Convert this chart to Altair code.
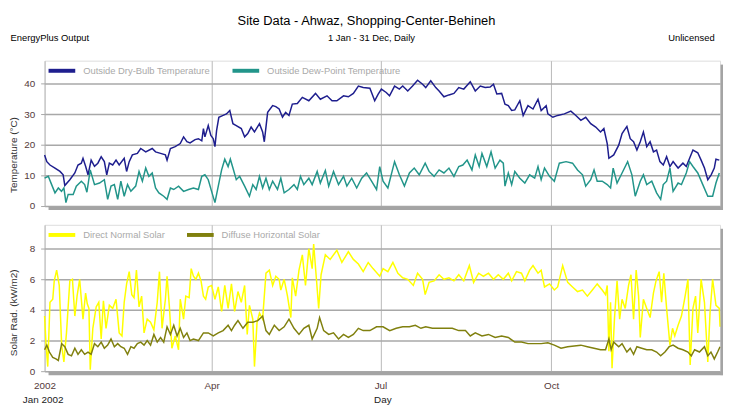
import altair as alt
import pandas as pd

# ---- data (day offset from 1 Jan 2002, value) ----
dry_bulb = [[0, 16.7], [1.2, 14.5], [2.9, 13.4], [5.6, 12.4], [8.3, 11.3], [10, 10.2], [10.9, 6.7], [13.6, 8.6],
            [16.3, 10.8], [18, 13.4], [19.8, 14], [20.7, 15.6], [22.1, 13], [23.4, 10.2], [25.1, 15], [26.9, 13],
            [28.7, 14], [30.5, 16.1], [32.2, 14.5], [33.5, 10.2], [34.9, 14], [36.7, 13.4], [38.5, 15], [40.2, 13.4],
            [42.9, 15.6], [44.2, 11.3], [45.6, 14.5], [47.3, 16.7], [50, 17.2], [51.8, 18.8], [54.5, 17.7], [58, 18.8],
            [59.8, 17.7], [62.5, 17.2], [65.1, 16.7], [66, 15], [67.8, 18.8], [70.4, 19.4], [73.1, 20.4], [74.9, 22.6],
            [76.7, 21], [78.4, 20.6], [81.1, 21.7], [82.9, 22], [84.7, 21.3], [85.6, 25.3], [86.4, 22.6], [88.2, 26.3],
            [89.6, 23.1], [90.9, 22], [91.8, 19.4], [92.7, 24.7], [93.9, 29], [96.2, 29.6], [98, 30.1], [99.8, 31.2],
            [101.5, 26.9], [103.3, 26.3], [106, 25.3], [107.8, 22.6], [109.5, 23.7], [111.3, 25.8], [113.1, 24.2],
            [115.8, 26.9], [117.5, 24.2], [118.4, 21], [120.2, 30.6], [122.9, 32.8], [124.6, 32.5], [126.4, 31.7],
            [128.2, 29], [129.9, 30.6], [131.7, 29.6], [133.5, 33.3], [136.2, 33.5], [138.9, 35.5], [142.4, 34.4],
            [146, 36.8], [148.6, 34.9], [152.2, 36], [154.9, 34.4], [157.5, 34.4], [161.1, 36], [163.7, 35.7],
            [166.4, 36.8], [169.1, 39.2], [171.7, 38.7], [175.3, 38.5], [177.9, 34.4],
            [179.7, 36.5], [181.5, 38.2], [184.1, 37.1], [185.9, 36], [188.6, 39.2], [191.2, 38.2], [193, 39.2],
            [195.7, 37.6], [198.3, 39.2], [201, 41.1], [203.7, 39.8], [205.4, 38.7], [208.1, 40.9], [210.8, 38.7],
            [212.6, 37.6], [215.2, 35.7], [217.9, 36.3], [220.6, 36.8], [223.2, 38.7], [225.9, 38.2], [229.4, 40.6],
            [232.1, 37.6], [234.8, 39.2], [237.4, 38.7], [240.1, 38.9], [241.9, 39.8], [243.7, 36.6], [246.3, 36.8],
            [248.1, 33.3], [249.9, 32.8], [251.7, 31.2], [253.4, 31.4], [256.1, 34.4], [257.9, 29.6], [260.5, 32.8],
            [263.2, 31.7], [265.9, 34.9], [267.6, 31.2], [270.3, 32.8], [271.2, 30.1], [273.9, 29], [276.5, 29.6],
            [280.1, 30.1], [283.6, 31], [286.3, 29.6], [289, 28], [291.6, 29], [294.3, 26.9], [297, 25.8],
            [299.6, 24.2], [301.4, 25.3], [303.2, 20.4], [304.1, 15.6], [306.7, 16.7], [309.4, 19.9], [311.2, 23.7],
            [313.8, 26], [315.6, 22], [317.4, 21], [319.2, 18.3], [321, 21], [322.7, 24.2], [324.5, 19.4], [326.3, 21],
            [328.1, 17.7], [329.8, 18.3], [331.6, 14.5], [333.4, 13.4], [335.2, 16.1], [337, 12.9], [338.7, 14.5],
            [341.4, 12.4], [344, 14], [345.8, 12.9], [347.6, 15.6], [349.4, 18.3], [352, 17.4], [353.8, 15],
            [355.6, 12.4], [357.4, 8.6], [359.2, 10.2], [360.9, 12.4], [361.8, 15.3], [363.6, 15]]

dew_point = [[0, 9.1], [2, 9.7], [3.8, 7], [5.6, 4.3], [7.4, 5.9], [9.1, 4.8], [10.4, 5.9], [11.5, 1.1], [12.7, 3.8],
             [15.4, 3.8], [17.1, 6.5], [19.8, 8.1], [21.6, 7], [22.8, 4.5], [24.6, 11.8], [26.9, 7], [29.6, 7.5],
             [32.2, 8.6], [34, 2.2], [35.8, 6.5], [37.6, 7], [39.4, 2.2], [41.1, 8.1], [42.9, 3.2], [44.7, 7],
             [46.5, 4.8], [49.1, 6.5], [50.9, 11.3], [52.7, 8.1], [54.5, 12.4], [56.2, 9.7], [58, 10.8], [59.8, 5.9],
             [61.6, 4.3], [64.2, 3.2], [66, 2.2], [67.8, 5.9], [69.6, 5.4], [72.2, 6.5], [74.9, 4.8], [77.6, 5.4],
             [80.2, 5.9], [82.9, 5.4], [84.7, 9.7], [86.4, 10.2], [88.2, 8.6], [90, 4.8], [91.8, 1.1], [93.6, 6.5],
             [95.4, 11.8], [97.1, 15.3], [98.9, 12.9], [100.1, 15.3], [101.5, 12.4], [103.3, 8.6], [105.1, 9.7],
             [107.8, 6.5], [110.4, 3.2], [112.2, 7], [114, 5.4], [115.8, 9.7], [117.5, 5.9], [119.3, 9.1], [121.1, 5.4],
             [122.9, 8.1], [125.5, 5.4], [127.3, 9.1], [129.1, 4.3], [131.7, 5.4], [134.4, 7], [136.2, 5.4],
             [137.9, 9.7], [139.7, 7], [142.4, 9.1], [144.2, 7], [146.9, 11.3], [148.6, 7.5], [151.3, 11.6],
             [153.1, 6.5], [155.7, 11.3], [158.4, 7], [161.1, 9.7], [162.9, 6.5], [165.5, 9.1], [168.2, 5.9],
             [170.9, 9.1], [173.5, 10.8], [176.2, 8.1], [178.9, 5.4],
             [180.6, 12.9], [182.4, 8.1], [185, 5.9], [188.6, 14.5], [191.2, 10.2], [193.9, 6.5], [196.6, 10.8],
             [199.2, 12.4], [201.9, 10.2], [205.1, 14], [207.2, 11.3], [209.9, 9.7], [212.6, 11.8], [215.2, 10.8],
             [217.9, 12.4], [220.6, 9.7], [223.2, 12.9], [225.4, 13.4], [227.7, 15], [230.3, 11.8], [232.1, 16.7],
             [234.2, 12.9], [235.7, 17.2], [238.3, 12.9], [240.6, 17.7], [242.8, 12.4], [245.4, 15], [247.2, 14],
             [248.1, 6.5], [249.9, 10.8], [251.7, 7], [253.4, 11.3], [256.1, 9.1], [258.8, 7.5], [261.4, 10.2],
             [264.1, 9.1], [265.9, 12.9], [267.6, 8.6], [269.4, 12.4], [272.1, 9.7], [274.7, 8.1], [277.4, 14],
             [281, 14.5], [284.5, 14], [287.2, 11.8], [289.9, 10.2], [291.6, 6.5], [294.3, 8.6], [296.1, 11.8],
             [297.8, 8.1], [300.5, 8.1], [303.2, 7], [305, 5.9], [306.4, 12.4], [308.5, 7.5], [311.2, 10.8],
             [314.2, 14.5], [316.5, 10.2], [318.3, 3.2], [321, 8.1], [322.7, 10.2], [324.5, 7], [327.2, 8.1],
             [329.8, 4.3], [332, 2.2], [333.4, 7], [335.2, 8.1], [337, 12.4], [338.7, 4.8], [341.4, 7.5], [343.2, 7],
             [345.8, 10.8], [347.6, 14.5], [349.4, 12.9], [352, 10.8], [354.7, 7], [357.4, 3.2], [360, 3.2],
             [361.8, 7.5], [363.6, 10.8]]

direct_normal = [[0, 3.6], [0.8, 1.7], [1.7, 0.3], [2.9, 4.5], [4.4, 4.7], [5.2, 5.9], [6.5, 6.6], [7.9, 5.6],
                 [9.2, 1.7], [10.4, 0.6], [11.8, 2.5], [13.6, 5.9], [15, 6], [16.3, 3.6], [17.5, 4.9], [18.9, 6],
                 [20.7, 3.4], [22.1, 5.1], [23, 4.4], [23.9, 4.1], [24.6, 0.1], [26, 2.8], [27.8, 4.2], [29.2, 4.5],
                 [30.5, 2.1], [31.7, 4.6], [33.1, 2.8], [34.9, 4.3], [36.7, 4.1], [38.5, 4.7], [40.2, 2.5], [41.7, 2.3],
                 [42.9, 4.5], [44.2, 5.7], [45.6, 6.5], [47, 5], [48.2, 4.8], [49.5, 6.6], [50.9, 4.2], [52.3, 4.9],
                 [53.6, 2.5], [55.3, 3.4], [57.1, 3.2], [58.9, 2.7], [60.7, 4.5], [61.9, 6.5], [63.3, 2.8], [65.1, 4.7],
                 [66, 6.2], [67.2, 4.3], [68.6, 1.5], [70.4, 2.3], [72.2, 1.4], [73.1, 4.7], [74.9, 3.4], [76.1, 4.9],
                 [77.9, 4.8], [79, 6.7], [80.2, 6.2], [81.5, 6], [82.9, 6.4], [84.3, 5.9], [85.6, 4.9], [86.8, 4.7],
                 [88.2, 5.5], [90, 5.6], [91.8, 4.7], [93.6, 5.5], [95.4, 3.9], [97.1, 5.6], [98.9, 4.1], [100.7, 5.7],
                 [102.4, 3.9], [104.2, 5.2], [106, 4.5], [107.8, 5.6], [109.2, 2.4], [110.4, 4.3], [112.2, 3.4],
                 [113.1, 0.3], [114.5, 3.2], [115.8, 3.8], [117.5, 3.4], [119.3, 6.4], [121.1, 6.6], [122.9, 5.6],
                 [124.6, 6.2], [126.4, 6], [127.3, 5.3], [129.1, 6], [130.9, 4.9], [132.7, 3.5], [133.5, 6.1],
                 [135.3, 4.9], [137.1, 6.6], [138.9, 7.6], [140.6, 5.6], [142.4, 8], [144.2, 6.7], [145, 8.3],
                 [146.5, 6], [147.7, 4.1], [149, 6.3], [151.3, 7.6], [153.9, 7.3], [157.5, 7.9], [160.2, 7.1],
                 [163.7, 7.8], [166.4, 7.3], [169.1, 7], [171.7, 6.5], [174.4, 7.1], [177, 6.7], [180.6, 6.2],
                 [182.4, 6.7], [185, 6.5], [187.7, 7.1], [190.4, 6.4], [193, 6.1], [195.7, 6], [198.7, 5.6], [201, 6.4],
                 [203.7, 6], [205.1, 5], [207.2, 5.8], [209.9, 5.9], [212.6, 6.3], [215.2, 6], [217.9, 6.1],
                 [220.6, 5.9], [223.2, 6.3], [225.9, 5.9], [228.9, 6.9], [231.2, 5.8], [233.9, 6.4], [236.5, 6.2],
                 [239.2, 6.4], [241.9, 6], [244.5, 6.3], [247.2, 6], [249.9, 6.4], [251.7, 5.9], [254.3, 6.5],
                 [257, 6.4], [258.8, 5.9], [261.4, 6.6], [263.2, 6.9], [265.9, 6.4], [267.6, 6.6], [269.4, 5.5],
                 [272.1, 5.7], [274.7, 5.3], [276.5, 5.5], [279.2, 6.9], [281.9, 5.8], [284.5, 5.5], [287.2, 5.2],
                 [289.9, 5.3], [292.5, 4.9], [295.2, 5.3], [297.8, 5.7], [300.5, 5.3], [302.3, 5], [303.2, 5.6],
                 [304.1, 1.3], [305, 4.5], [305.8, 0.2], [307.1, 3.4], [308.5, 5.9], [309.9, 3.4], [311.2, 4.7],
                 [312.9, 4.1], [314.7, 5.6], [316, 6.3], [317.4, 3.4], [318.8, 6.6], [320.1, 4.9], [321, 2.2],
                 [322.7, 4.7], [324.5, 4.1], [326.3, 3.5], [328.1, 5.1], [329.5, 5.9], [331.2, 6.5], [332.5, 4.5],
                 [333.7, 6.4], [335.2, 4.1], [337, 1.7], [338.4, 2.8], [339.6, 2.3], [341.4, 3], [343.2, 3.6],
                 [344.9, 4.7], [346.7, 6], [347.9, 0.4], [349.4, 4.1], [350.8, 4.9], [352, 2.5], [353.8, 6],
                 [355.6, 4.5], [357.4, 0.6], [358.6, 3.8], [360, 6], [361.8, 4.3], [363.6, 4.1], [364, 2.9]]

diffuse_horizontal = [[0, 1.4], [1.2, 1.7], [2.6, 1.25], [4.4, 0.9], [6.1, 0.8], [7.4, 0.7], [9.2, 1.8], [10.9, 1.6],
                      [12.7, 1.1], [14.5, 1.0], [16.3, 1.5], [18, 1.1], [19.8, 1.4], [21.6, 1.1], [23.4, 1.25],
                      [25.1, 1.1], [26.9, 1.8], [28.7, 1.6], [30.5, 1.9], [32.2, 1.5], [34, 1.7], [35.8, 2.1],
                      [37.6, 1.6], [39.4, 1.8], [41.1, 1.6], [42.9, 1.5], [44.7, 1.1], [46.5, 1.6], [48.2, 1.5],
                      [50, 1.8], [51.8, 1.9], [53.6, 1.7], [55.3, 2.0], [57.1, 1.7], [58.9, 2.4], [60.7, 1.9],
                      [62.5, 2.2], [64.2, 1.9], [66, 2.9], [67.8, 2.4], [69.6, 3.0], [71.4, 2.3], [73.1, 2.8],
                      [74.9, 2.2], [76.7, 2.5], [78.4, 2.0], [80.2, 2.1], [82.9, 2.0], [85.6, 2.5], [88.2, 2.5],
                      [90.9, 2.3], [93.6, 2.5], [96.2, 2.65], [98.9, 3.0], [100.7, 2.65], [102.4, 3.0], [104.2, 3.3],
                      [106.9, 2.8], [109.5, 3.2], [112.2, 3.2], [114.9, 3.3], [117.5, 3.6], [119.3, 2.65], [121.1, 2.4],
                      [123.8, 3.0], [126.4, 2.65], [129.1, 2.9], [131.7, 3.4], [134.4, 2.8], [137.1, 2.4], [139.7, 2.8],
                      [142.4, 3.0], [144.2, 2.1], [146.9, 2.8], [148.2, 3.5], [150.4, 2.65], [153.1, 2.4], [155.7, 2.5],
                      [158.4, 2.1], [161.1, 2.4], [163.7, 2.2], [166.4, 2.4], [169.1, 2.8], [171.7, 2.65], [175.3, 2.65],
                      [178.9, 2.9], [182.4, 2.9], [186, 2.65], [189.5, 2.8], [193, 2.9], [196.6, 2.9], [199.8, 3.0],
                      [202.8, 2.8], [205.4, 2.9], [209, 2.8], [212.6, 2.8], [216.1, 2.8], [219.7, 2.8], [223.2, 2.65],
                      [226.8, 2.65], [229.4, 2.3], [232.1, 2.5], [235.7, 2.3], [239.2, 2.4], [242.8, 2.2], [246.3, 2.3],
                      [249.9, 2.2], [253.4, 1.9], [257, 1.9], [260.5, 1.8], [264.1, 1.8], [267.6, 1.8], [271.2, 1.85],
                      [274.7, 1.7], [278.3, 1.5], [281.9, 1.6], [285.4, 1.65], [289, 1.7], [292.5, 1.6], [296.1, 1.5],
                      [299.6, 1.4], [302.3, 1.4], [304.1, 2.1], [305.3, 1.4], [306.7, 1.9], [309.4, 1.6], [311.2, 1.8],
                      [313.8, 1.25], [315.6, 1.5], [317.4, 1.1], [319.2, 1.6], [321.8, 1.5], [324.5, 1.4], [327.2, 1.4],
                      [329.8, 1.25], [332, 1.0], [334.3, 1.25], [336.6, 1.6], [338.7, 1.7], [341.4, 1.5], [344, 1.4],
                      [346.7, 1.25], [348.5, 1.0], [350.3, 1.4], [352.9, 1.25], [355.6, 1.6], [357.4, 1.0], [359.1, 1.25],
                      [360.9, 0.8], [362.7, 1.25], [364, 1.6]]

temp_series = ["Outside Dry-Bulb Temperature", "Outside Dew-Point Temperature"]
temp_colors = ["#1e1e8e", "#22958a"]
solar_series = ["Direct Normal Solar", "Diffuse Horizontal Solar"]
solar_colors = ["#ffff00", "#80800e"]

tick_days = [0, 90, 181, 273]
tick_labels = ["2002", "Apr", "Jul", "Oct"]
temp_ticks = [0, 10, 20, 30, 40]
solar_ticks = [0, 2, 4, 6, 8]

title_text = "Site Data - Ahwaz, Shopping-Center-Behineh"
left_note = "EnergyPlus Output"
center_note = "1 Jan - 31 Dec, Daily"
right_note = "Unlicensed"
year_note = "Jan 2002"


def frame(pairs, name):
    return pd.DataFrame({"day": [p[0] for p in pairs], "value": [p[1] for p in pairs], "series": name})


temp_df = pd.concat([frame(dry_bulb, temp_series[0]), frame(dew_point, temp_series[1])], ignore_index=True)
solar_df = pd.concat([frame(direct_normal, solar_series[0]), frame(diffuse_horizontal, solar_series[1])],
                     ignore_index=True)
one_row = pd.DataFrame({"k": [0]})

W, H1, H2 = 683, 147, 148
FONT = "Liberation Sans"
LABEL_COLOR = "#553a3a"
GRID_H = "#a8a8a8"
GRID_V = "#b8b8b8"
SHADOW = "#a4a4a4"

label_expr = ""
for d, lab in zip(tick_days, tick_labels):
    label_expr += f"datum.value == {d} ? '{lab}' : "
label_expr += "''"

xscale = alt.Scale(domain=[0, 364], nice=False, zero=False)


def legend():
    return alt.Legend(orient="none", legendX=2, legendY=-5.5, direction="horizontal", title=None,
                      symbolType="stroke", symbolStrokeWidth=4, symbolSize=729, labelColor="#a9a9a9",
                      labelFontSize=9.5, labelFont=FONT, labelOffset=6, columnPadding=14, padding=0,
                      labelLimit=300)


def y_axis(ticks, title, title_y):
    return alt.Axis(values=ticks, title=title, titleX=-31, titleY=title_y, titleAngle=-90, titleBaseline="middle",
                    titleAlign="center", titleFontSize=10, titleFontWeight="normal", titleColor="#333333",
                    titleFont=FONT, labelFont=FONT, labelFontSize=10, labelColor=LABEL_COLOR, labelPadding=6,
                    tickSize=4, tickColor=GRID_H, domain=False, gridColor=GRID_H, gridWidth=1.5)


# ---------------- top panel ----------------
top_lines = alt.Chart(temp_df).mark_line(strokeWidth=1.5).encode(
    x=alt.X("day:Q", scale=xscale,
            axis=alt.Axis(values=tick_days, labels=False, ticks=False, domain=False, grid=True,
                          gridColor=GRID_V, gridWidth=1, title=None)),
    y=alt.Y("value:Q", scale=alt.Scale(domain=[0, 47.5], nice=False, zero=False),
            axis=y_axis(temp_ticks, "Temperature (°C)", 95)),
    color=alt.Color("series:N", scale=alt.Scale(domain=temp_series, range=temp_colors), legend=legend()),
    order=alt.Order("day:Q"),
    detail="series:N",
)

top_shadow_b = alt.Chart(one_row).mark_rect(color=SHADOW).encode(
    x=alt.value(4), x2=alt.value(W + 3), y=alt.value(H1 + 0.5), y2=alt.value(H1 + 4))
top_shadow_r = alt.Chart(one_row).mark_rect(color=SHADOW).encode(
    x=alt.value(W + 0.5), x2=alt.value(W + 3), y=alt.value(4), y2=alt.value(H1 + 4))

hdr_title = alt.Chart(one_row).mark_text(fontSize=13, font=FONT, color="#000000", align="center",
                                          baseline="middle").encode(
    x=alt.value(325.5), y=alt.value(-40.5), text=alt.value(title_text))
hdr_left = alt.Chart(one_row).mark_text(fontSize=9.5, font=FONT, color="#000000", align="left",
                                         baseline="middle").encode(
    x=alt.value(-34.5), y=alt.value(-23), text=alt.value(left_note))
hdr_center = alt.Chart(one_row).mark_text(fontSize=9.5, font=FONT, color="#000000", align="center",
                                           baseline="middle").encode(
    x=alt.value(330.5), y=alt.value(-23), text=alt.value(center_note))
hdr_right = alt.Chart(one_row).mark_text(fontSize=9.5, font=FONT, color="#000000", align="right",
                                          baseline="middle").encode(
    x=alt.value(677.5), y=alt.value(-23), text=alt.value(right_note))

top = alt.layer(top_lines, top_shadow_b, top_shadow_r, hdr_title, hdr_left, hdr_center, hdr_right).properties(
    width=W, height=H1)

# ---------------- bottom panel ----------------
bot_lines = alt.Chart(solar_df).mark_line(strokeWidth=1.5).encode(
    x=alt.X("day:Q", scale=xscale,
            axis=alt.Axis(values=tick_days, labelExpr=label_expr, labelFlush=False, labelOverlap=False,
                          ticks=False, tickSize=0, domain=False, grid=True, gridColor=GRID_V, gridWidth=1,
                          labelFont=FONT, labelFontSize=10, labelColor=LABEL_COLOR, labelPadding=10,
                          title="Day", titleFont=FONT, titleFontSize=10, titleFontWeight="normal",
                          titleColor="#222222", titleY=29, titleBaseline="middle")),
    y=alt.Y("value:Q", scale=alt.Scale(domain=[0, 9.56], nice=False, zero=False),
            axis=y_axis(solar_ticks, "Solar Rad. (kW/m2)", 88.5)),
    color=alt.Color("series:N", scale=alt.Scale(domain=solar_series, range=solar_colors), legend=legend()),
    order=alt.Order("day:Q"),
    detail="series:N",
)

bot_shadow_b = alt.Chart(one_row).mark_rect(color=SHADOW).encode(
    x=alt.value(4), x2=alt.value(W + 3), y=alt.value(H2 + 0.5), y2=alt.value(H2 + 4))
bot_shadow_r = alt.Chart(one_row).mark_rect(color=SHADOW).encode(
    x=alt.value(W + 0.5), x2=alt.value(W + 3), y=alt.value(4), y2=alt.value(H2 + 4))
year_text = alt.Chart(one_row).mark_text(fontSize=10, font=FONT, color="#222222", align="center",
                                          baseline="middle").encode(
    x=alt.value(-1.5), y=alt.value(H2 + 29), text=alt.value(year_note))

bottom = alt.layer(bot_lines, bot_shadow_b, bot_shadow_r, year_text).properties(width=W, height=H2)

chart = alt.vconcat(top, bottom, spacing=7).resolve_scale(color="independent").properties(
    padding={"left": 0, "top": 4, "right": 0, "bottom": 0}, background="#ffffff"
).configure_view(fill="#eff0ef", stroke="#cfcfcf", strokeWidth=1).configure(font=FONT)

chart.save("out.html", embed_options={"renderer": "svg", "actions": False})
